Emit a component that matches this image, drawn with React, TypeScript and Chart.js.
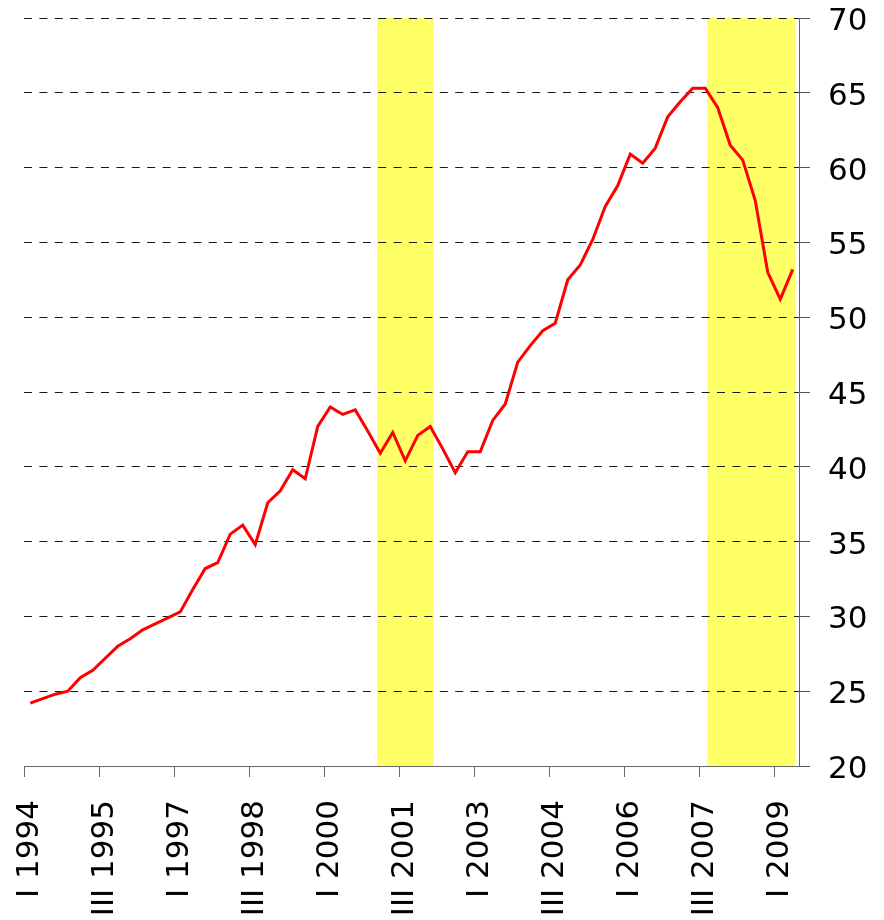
import React, { useEffect, useRef } from 'react';
import { Chart, registerables } from 'chart.js';

Chart.register(...registerables);

// Quarter labels: I 1994 … II 2009
const years: number[] = [1994, 1995, 1996, 1997, 1998, 1999, 2000, 2001, 2002, 2003, 2004, 2005, 2006, 2007, 2008, 2009];
const quarterNames: string[] = ['I', 'II', 'III', 'IV'];
const lastYearQuarters = 2;

const categories: string[] = [];
years.forEach((yr, yi) => {
  const n = yi === years.length - 1 ? lastYearQuarters : 4;
  for (let q = 0; q < n; q++) categories.push(`${quarterNames[q]} ${yr}`);
});

// Series values
const seriesValues: number[] = [
  24.2, 24.5, 24.8, 25.0, 25.9, 26.4, 27.2, 28.0,
  28.5, 29.1, 29.5, 29.9, 30.3, 31.8, 33.2, 33.6,
  35.5, 36.1, 34.8, 37.6, 38.4, 39.8, 39.2, 42.7,
  44.0, 43.5, 43.8, 42.4, 40.9, 42.3, 40.4, 42.1,
  42.7, 41.2, 39.6, 41.0, 41.0, 43.1, 44.2, 47.0,
  48.1, 49.1, 49.6, 52.5, 53.5, 55.2, 57.4, 58.8,
  60.9, 60.3, 61.3, 63.4, 64.4, 65.3, 65.3, 64.0,
  61.5, 60.5, 57.8, 53.0, 51.2, 53.2,
];

// Shaded periods, in category-index units
const shadeStart: number[] = [27.74, 54.16];
const shadeEnd: number[] = [32.28, 61.18];

const yMin = 20;
const yMax = 70;
const yStep = 5;
const labelEvery = 6;

const bandPlugin = {
  id: 'bands',
  beforeDraw(chart: any) {
    const { ctx, scales } = chart;
    const x = scales.x;
    const y = scales.y;
    const top = y.getPixelForValue(yMax);
    const bottom = y.getPixelForValue(yMin);
    ctx.save();
    ctx.fillStyle = '#ffff66';
    for (let k = 0; k < shadeStart.length; k++) {
      const x0 = x.getPixelForValue(shadeStart[k]);
      const x1 = x.getPixelForValue(shadeEnd[k]);
      ctx.fillRect(x0, top, x1 - x0, bottom - top);
    }
    ctx.restore();
  },
};

export default function App() {
  const ref = useRef<HTMLCanvasElement | null>(null);

  useEffect(() => {
    if (!ref.current) return;
    const chart = new Chart(ref.current, {
      type: 'line',
      data: {
        labels: categories,
        datasets: [
          {
            data: seriesValues,
            borderColor: '#ff0000',
            borderWidth: 3,
            pointRadius: 0,
            tension: 0,
            fill: false,
          },
        ],
      },
      options: {
        animation: false,
        responsive: false,
        devicePixelRatio: 1,
        layout: { padding: { left: 24, top: 18, right: 0, bottom: 0 } },
        plugins: { legend: { display: false }, tooltip: { enabled: false } },
        scales: {
          x: {
            type: 'category',
            offset: true,
            grid: {
              offset: true,
              drawOnChartArea: false,
              drawTicks: true,
              tickLength: 11,
              color: (c: any) => (c.index !== undefined && c.index % labelEvery === 0 ? '#666666' : 'rgba(0,0,0,0)'),
              tickColor: (c: any) => (c.index !== undefined && c.index % labelEvery === 0 ? '#666666' : 'rgba(0,0,0,0)'),
            },
            border: { display: true, color: '#666666', width: 1 },
            ticks: {
              autoSkip: false,
              minRotation: 90,
              maxRotation: 90,
              padding: 23,
              color: '#000000',
              font: { family: 'DejaVu Sans', size: 31 },
              callback: (_v: any, i: number) => (i % labelEvery === 0 ? categories[i] : ''),
            },
            afterFit: (s: any) => {
              s.height = 154;
              s.paddingLeft = 0;
              s.paddingRight = 0;
            },
          },
          y: {
            position: 'right',
            min: yMin,
            max: yMax,
            grid: {
              color: '#1a1a1a',
              lineWidth: 1,
              drawTicks: true,
              tickLength: 11,
              tickColor: '#555555',
              tickBorderDash: [],
            },
            border: { display: true, color: '#666666', width: 1, dash: [8, 7.4] },
            ticks: {
              stepSize: yStep,
              padding: 18,
              labelOffset: 4,
              color: '#000000',
              font: { family: 'DejaVu Sans', size: 31 },
            },
            afterFit: (s: any) => {
              s.width = 85;
              s.paddingTop = 0;
              s.paddingBottom = 0;
            },
          },
        },
      },
      plugins: [bandPlugin],
    });
    return () => chart.destroy();
  }, []);

  return (
    <div style={{ position: 'absolute', left: 0, top: 0, width: 884, height: 920, background: '#ffffff' }}>
      <canvas ref={ref} width={884} height={920} style={{ display: 'block' }} />
    </div>
  );
}
